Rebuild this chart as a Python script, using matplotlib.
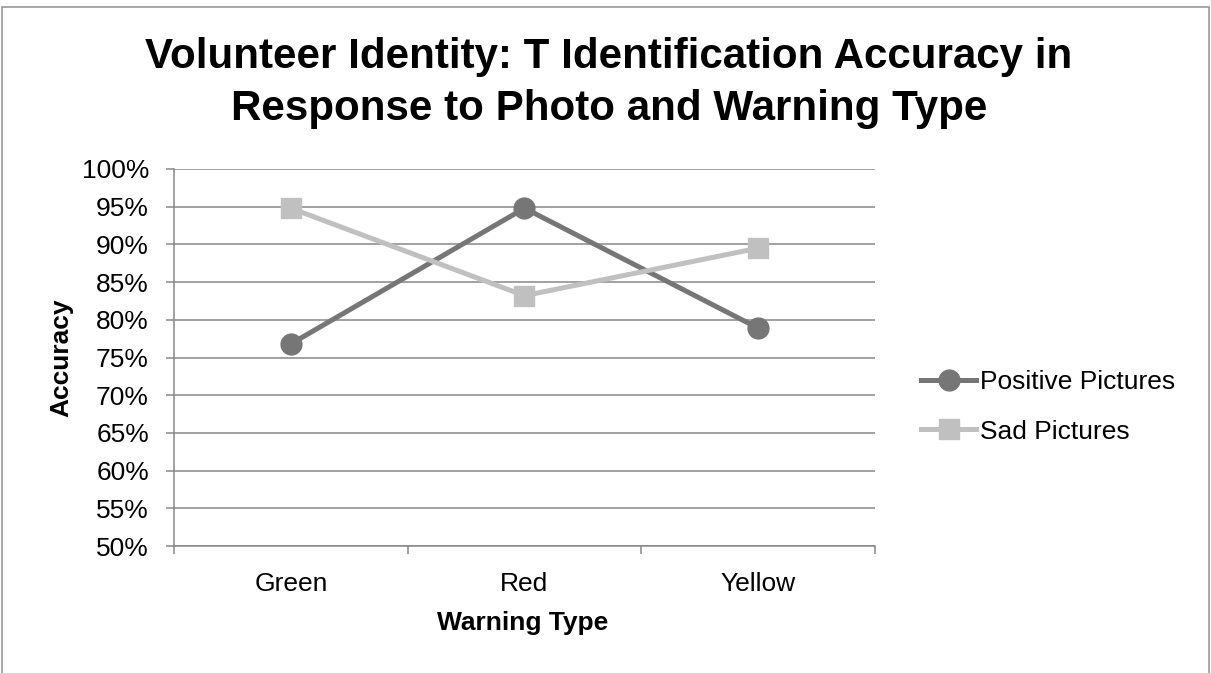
import matplotlib.pyplot as plt
from matplotlib.patches import Rectangle
from matplotlib.ticker import FixedLocator, PercentFormatter

plt.rcParams['font.family'] = ['Liberation Sans', 'DejaVu Sans']

warning_types = ["Green", "Red", "Yellow"]
positive_pictures = [76.8, 94.8, 78.9]
sad_pictures = [94.8, 83.2, 89.5]

W, H = 1211, 673
fig = plt.figure(figsize=(W / 100, H / 100), dpi=100)
ax = fig.add_axes([174 / W, 1 - 546 / H, 701 / W, 377 / H])

x = range(len(warning_types))
ax.plot(x, positive_pictures, color='#767676', lw=3.6, marker='o',
        markersize=15, label='Positive Pictures', zorder=3)
ax.plot(x, sad_pictures, color='#c0c0c0', lw=3.6, marker='s',
        markersize=15, label='Sad Pictures', zorder=3)

ax.set_xlim(-0.5, 2.5)
ax.set_ylim(50, 100)
ax.set_yticks(range(50, 101, 5))
ax.yaxis.set_major_formatter(PercentFormatter(decimals=0))
ax.grid(axis='y', color='#888888', lw=1.1)
ax.set_axisbelow(True)

# category labels sit between the boundary ticks
ax.xaxis.set_major_locator(FixedLocator([-0.5, 0.5, 1.5, 2.5]))
ax.xaxis.set_minor_locator(FixedLocator(list(x)))
ax.set_xticklabels([], minor=False)
ax.set_xticklabels(warning_types, minor=True)
ax.tick_params(axis='x', which='major', length=6, color='#888888', width=1.1)
ax.tick_params(axis='x', which='minor', length=0, pad=19, labelsize=19)
ax.tick_params(axis='y', length=6, color='#888888', width=1.1, labelsize=19, pad=12)

for side in ('top', 'right'):
    ax.spines[side].set_visible(False)
for side in ('left', 'bottom'):
    ax.spines[side].set_color('#888888')
    ax.spines[side].set_linewidth(1.1)

ax.set_xlabel('Warning Type', fontsize=19, fontweight='bold')
ax.set_ylabel('Accuracy', fontsize=19, fontweight='bold')
ax.xaxis.set_label_coords((523 / W - ax.get_position().x0) / ax.get_position().width,
                          -65 / 377)
ax.yaxis.set_label_coords(-101 / 701, 0.5)

fig.text(609 / W, 1 - 37 / H,
         'Volunteer Identity: T Identification Accuracy in\nResponse to Photo and Warning Type',
         ha='center', va='top', fontsize=30.3, fontweight='bold', linespacing=1.4)

fig.legend(loc='center left', bbox_to_anchor=(921 / W, 1 - 407 / H), frameon=False,
           fontsize=19, handlelength=2.1, handletextpad=0.15, labelspacing=0.95,
           borderpad=0, borderaxespad=0)

fig.add_artist(Rectangle((0.002, -0.01), 0.996, 1.0, transform=fig.transFigure,
                         fill=False, edgecolor='#999999', lw=1.2))

fig.savefig('out.png', dpi=100)
